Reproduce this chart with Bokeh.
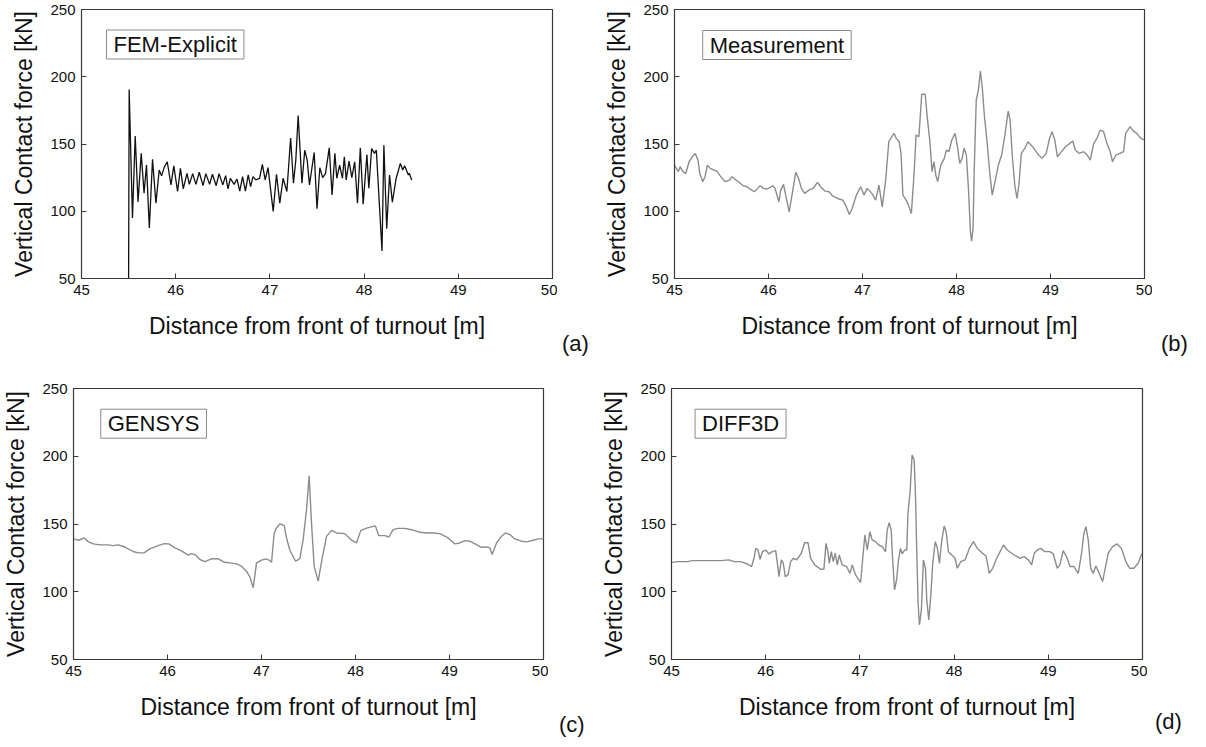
from bokeh.plotting import figure
from bokeh.models import Label, Range1d, FixedTicker, Div
from bokeh.layouts import column, row
from bokeh.embed import file_html
from bokeh.resources import INLINE

# ---------------- data ----------------
X_TICKS = [45, 46, 47, 48, 49, 50]
Y_TICKS = [50, 100, 150, 200, 250]
X_TITLE = "Distance from front of turnout [m]"
Y_TITLE = "Vertical Contact force [kN]"

fem_x = [45.5, 45.506, 45.541, 45.57, 45.60, 45.634, 45.664, 45.69, 45.72, 45.754, 45.79, 45.825, 45.85, 45.88,
         45.91, 45.95, 45.98, 46.02, 46.05, 46.08, 46.12, 46.145, 46.18, 46.215, 46.25, 46.29, 46.32, 46.36,
         46.39, 46.43, 46.46, 46.5, 46.53, 46.555, 46.58, 46.62, 46.65, 46.68, 46.71, 46.74, 46.77, 46.795,
         46.82, 46.85, 46.89, 46.92, 46.95, 46.98, 47.035, 47.07, 47.105, 47.14, 47.18, 47.22, 47.25, 47.275,
         47.30, 47.34, 47.37, 47.396, 47.42, 47.47, 47.50, 47.53, 47.56, 47.59, 47.63, 47.66, 47.69, 47.71,
         47.74, 47.77, 47.79, 47.81, 47.84, 47.87, 47.9, 47.93, 47.96, 47.99, 48.03, 48.05, 48.08, 48.11,
         48.13, 48.19, 48.21, 48.24, 48.27, 48.30, 48.34, 48.36, 48.385, 48.41, 48.43, 48.47, 48.48, 48.505]
fem_y = [50, 190.5, 95, 156, 107, 143, 113.5, 134.4, 87.6, 138.6, 106, 130.7, 126.3, 133,
         136.8, 119.6, 133.8, 114.7, 131.9, 116.6, 128.2, 120, 128, 120, 129, 119, 128, 120,
         127.5, 119, 128, 119.6, 126.5, 116.6, 124.5, 120, 124, 115, 125.7, 115, 127, 118.3,
         125.7, 123.3, 124.5, 134.8, 123.3, 132.4, 99.9, 127.5, 106, 124.5, 114.7, 154.5, 120.8, 138,
         171.2, 120.8, 145.4, 138, 119.6, 143.7, 101.9, 132.4, 125, 128, 147.1, 112.2, 143, 124.5,
         134.3, 124.5, 140.5, 123.3, 137.3, 125, 136.8, 106, 147.1, 105.3, 142.2, 117.1, 146.6, 143,
         145.4, 70.4, 149.1, 87.1, 127, 106.8, 124.5, 129.4, 135.6, 130.7, 133.8, 127, 128.2, 123.3]

meas_x = [44.985, 45.01, 45.04, 45.06, 45.09, 45.12, 45.155, 45.19, 45.22, 45.25, 45.27, 45.30, 45.325, 45.35,
          45.38, 45.42, 45.45, 45.50, 45.54, 45.585, 45.61, 45.655, 45.69, 45.73, 45.77, 45.805, 45.85, 45.885,
          45.91, 45.945, 45.98, 46.015, 46.045, 46.07, 46.11, 46.13, 46.16, 46.19, 46.22, 46.25, 46.29, 46.32,
          46.35, 46.385, 46.43, 46.475, 46.52, 46.555, 46.6, 46.645, 46.68, 46.735, 46.79, 46.82, 46.86, 46.89,
          46.935, 46.98, 47.016, 47.05, 47.1, 47.14, 47.175, 47.21, 47.245, 47.28, 47.335, 47.36, 47.39, 47.41,
          47.43, 47.475, 47.52, 47.55, 47.57, 47.6, 47.63, 47.667, 47.69, 47.717, 47.74, 47.76, 47.78, 47.8,
          47.833, 47.87, 47.893, 47.92, 47.95, 47.985, 48.01, 48.035, 48.06, 48.08, 48.105, 48.127, 48.148,
          48.16, 48.176, 48.19, 48.21, 48.233, 48.254, 48.275, 48.296, 48.33, 48.353, 48.38, 48.41, 48.445,
          48.48, 48.515, 48.55, 48.57, 48.593, 48.62, 48.643, 48.664, 48.69, 48.727, 48.76, 48.81, 48.86,
          48.91, 48.954, 48.99, 49.017, 49.045, 49.074, 49.116, 49.16, 49.193, 49.236, 49.264, 49.307,
          49.353, 49.39, 49.423, 49.46, 49.494, 49.53, 49.565, 49.6, 49.635, 49.66, 49.695, 49.74, 49.777,
          49.8, 49.847, 49.88, 49.918, 49.953, 49.995]
meas_y = [136.8, 133, 129.4, 133, 129.4, 128.1, 136.8, 140.5, 143, 138, 128, 122, 125.7, 134.3,
          131.9, 130.6, 129.9, 125, 122, 123.2, 125.7, 123.2, 121.4, 119, 118.2, 116.5, 114.5, 117,
          119, 117, 116.5, 117.5, 119, 117, 107, 115.7, 120, 109.5, 99.6, 112, 128.9, 124.4,
          117, 113.3, 115.7, 117, 121.4, 118.2, 115, 114.5, 111.5, 109.5, 108.3, 104.6, 97.6, 102,
          112, 118.2, 112, 117, 113.3, 108.3, 119.5, 103.3, 122, 151.7, 158, 154.2, 151.7, 143,
          112, 107, 98.4, 129.4, 156.7, 155.4, 187, 187, 169, 151.7, 129.4, 136.8, 126.9, 122,
          134.3, 139.3, 145.5, 144.3, 153, 157.9, 148, 135.6, 139.3, 146.8, 141.8, 117, 84.7,
          77.8, 87.2, 134.3, 182.7, 190.2, 204.3, 191.4, 171.6, 148, 129.4, 112, 122, 134.3,
          141.8, 156.7, 174.5, 167.8, 141.8, 119.5, 109.5, 119.5, 143, 146.8, 151.7, 148, 143,
          139.3, 143, 154.2, 159.2, 153, 140.5, 144.3, 148, 149.7, 152.2, 145.5, 143,
          144.3, 141.8, 138, 150.5, 154.2, 160.4, 159.2, 150.5, 144.3, 136.8, 141.8, 143, 144.3,
          157.9, 162.9, 159.7, 157.9, 154.7, 153]

gen_x = [45.0, 45.057, 45.114, 45.156, 45.21, 45.28, 45.37, 45.422, 45.475, 45.546, 45.635, 45.688, 45.75,
         45.812, 45.9, 45.965, 46.014, 46.078, 46.149, 46.22, 46.255, 46.298, 46.344, 46.397, 46.468, 46.54,
         46.603, 46.663, 46.734, 46.787, 46.84, 46.876, 46.912, 46.947, 47.0, 47.046, 47.082, 47.107, 47.135,
         47.16, 47.195, 47.241, 47.266, 47.302, 47.362, 47.408, 47.443, 47.479, 47.507, 47.532, 47.56, 47.603,
         47.646, 47.692, 47.745, 47.798, 47.887, 47.95, 48.01, 48.057, 48.117, 48.188, 48.213, 48.248, 48.312,
         48.355, 48.4, 48.454, 48.525, 48.596, 48.685, 48.756, 48.826, 48.897, 48.986, 49.057, 49.11, 49.163,
         49.217, 49.287, 49.34, 49.394, 49.429, 49.454, 49.5, 49.553, 49.596, 49.642, 49.695, 49.766, 49.82,
         49.89, 49.943, 50.0]
gen_y = [139, 138, 139.7, 137, 135.3, 134.6, 134.6, 134, 134.6, 133, 129.7, 128.7, 128.7,
         131.6, 134, 135.5, 135.3, 132.4, 130.1, 127, 128.2, 127.2, 123.8, 122.3, 124.3, 124.3,
         121.8, 121.3, 120.6, 118.9, 115.2, 111, 103, 121.3, 123.3, 124.3, 123.3, 121.8, 143.4,
         147, 150, 149, 139.7, 130.6, 122.5, 124.5, 138.5, 160.5, 185.5, 150.7, 118.9, 107.8,
         125, 140.9, 145.3, 143.4, 142.9, 138.5, 136, 145.3, 147, 148.3, 148.3, 141.4, 141.4,
         140.4, 145.8, 146.8, 146.8, 145.8, 143.9, 143.4, 143.4, 142.9, 139.7, 135.3, 136, 137.7,
         137.3, 134.8, 132.8, 133.1, 132.4, 127.5, 136, 140.9, 143.4, 142.2, 139, 137.3, 136.8,
         138, 139, 139]

diff_x = [44.995, 45.064, 45.17, 45.22, 45.346, 45.523, 45.61, 45.664, 45.735, 45.806, 45.85, 45.876, 45.894,
          45.919, 45.94, 45.965, 46.0, 46.035, 46.07, 46.106, 46.124, 46.141, 46.166, 46.187, 46.208, 46.237,
          46.265, 46.293, 46.329, 46.378, 46.414, 46.449, 46.477, 46.52, 46.583, 46.618, 46.64, 46.66, 46.675,
          46.696, 46.717, 46.738, 46.76, 46.78, 46.813, 46.859, 46.894, 46.919, 46.954, 47.007, 47.035, 47.053,
          47.078, 47.106, 47.13, 47.166, 47.2, 47.237, 47.272, 47.29, 47.311, 47.332, 47.346, 47.368, 47.389,
          47.41, 47.431, 47.449, 47.474, 47.498, 47.51, 47.533, 47.554, 47.576, 47.59, 47.604, 47.618, 47.632,
          47.653, 47.674, 47.696, 47.71, 47.731, 47.752, 47.773, 47.8, 47.823, 47.844, 47.87, 47.894, 47.915,
          47.94, 47.975, 48.01, 48.035, 48.07, 48.116, 48.162, 48.205, 48.247, 48.293, 48.339, 48.374, 48.41,
          48.452, 48.494, 48.523, 48.565, 48.61, 48.657, 48.7, 48.742, 48.788, 48.823, 48.851, 48.883, 48.918,
          48.964, 49.017, 49.053, 49.095, 49.123, 49.158, 49.194, 49.23, 49.272, 49.318, 49.353, 49.378, 49.4,
          49.424, 49.45, 49.477, 49.505, 49.54, 49.576, 49.604, 49.636, 49.682, 49.731, 49.777, 49.823, 49.865,
          49.908, 49.954, 49.995]
diff_y = [121.5, 122.2, 122.2, 123, 123, 123, 123.5, 122.2, 122.2, 120.5, 118.6, 124.7, 132,
          130.8, 124, 129.6, 130.8, 127.9, 129.6, 130.3, 121, 111.2, 123.5, 121, 111.2, 112.4,
          122.2, 124.7, 123.5, 128.4, 136.2, 136.2, 124.7, 119.8, 116.6, 116.6, 135.7, 129.6, 121,
          129.6, 122.2, 128.4, 119.8, 127.1, 119.8, 118.6, 113.6, 119.8, 112.4, 106.8, 128.4, 141.9,
          130.8, 144.3, 138.2, 137, 134.5, 133.3, 129.6, 145.6, 151, 145.6, 125.9, 101.4, 108.7,
          123.5, 132, 127.9, 130.8, 130.8, 157.9, 173.8, 200.9, 197.2, 171.4, 128.4, 91.5, 75.6,
          86.6, 123.5, 117.3, 94, 79.2, 96.4, 121, 137, 132, 121, 138.2, 148.5, 144.3,
          129.6, 127.1, 124.7, 117.3, 122.2, 123.5, 132, 137, 132, 128.9, 126.4, 113.6, 117.3,
          124.7, 130.3, 134.5, 130.8, 128.4, 126.4, 124.7, 125.9, 123.5, 119.8, 128.4, 130.8, 132,
          129.6, 129.6, 127.9, 117.3, 119.8, 130.3, 125.9, 118.6, 118.6, 113.6, 128.4, 143.1, 148,
          138.2, 117.3, 113.6, 119, 113.6, 107.5, 117.3, 128.4, 133.3, 135.3, 132, 122.2, 117.3,
          117.3, 121, 128.4]

# ---------------- styling ----------------
FONT = "Liberation Sans"
FRAME = "#3a3a3a"
GREY = "#8c8c8c"


def panel(w, h, bl, br, bt, bb, xs, ys, color, lw, name, name_x, name_y):
    p = figure(width=w, height=h, x_range=Range1d(45, 50), y_range=Range1d(50, 250),
               output_backend="svg", toolbar_location=None,
               min_border_left=bl, min_border_right=br, min_border_top=bt, min_border_bottom=bb)
    p.line(xs, ys, line_color=color, line_width=lw)
    p.xgrid.visible = False
    p.ygrid.visible = False
    p.outline_line_color = FRAME
    p.outline_line_width = 1.2
    p.background_fill_color = "white"
    p.border_fill_color = "white"
    for ax, ticks in ((p.xaxis[0], X_TICKS), (p.yaxis[0], Y_TICKS)):
        ax.ticker = FixedTicker(ticks=ticks)
        ax.major_tick_in = 5
        ax.major_tick_out = 0
        ax.minor_tick_line_color = None
        ax.axis_line_color = FRAME
        ax.major_tick_line_color = FRAME
        ax.major_label_text_font = FONT
        ax.major_label_text_font_size = "15px"
        ax.major_label_text_color = "#111111"
        ax.axis_label_text_font = FONT
        ax.axis_label_text_font_size = "23px"
        ax.axis_label_text_font_style = "normal"
        ax.axis_label_text_color = "#111111"
        ax.major_label_standoff = 6
    p.xaxis.axis_label = X_TITLE
    p.yaxis.axis_label = Y_TITLE
    p.xaxis.axis_label_standoff = 15
    p.yaxis.axis_label_standoff = 10

    p.add_layout(Label(x=name_x, y=name_y, text=name, text_font=FONT, text_font_size="22px",
                       text_color="#111111", text_align="left", text_baseline="middle",
                       border_line_color="#8a8a8a", border_line_width=1,
                       background_fill_color="white", padding=(7, 2)))
    return p


def tag(text, w, h, pad_left, pad_top):
    html = ('<div style="padding-left:%dpx; padding-top:%dpx; font-family:\'Liberation Sans\'; '
            'font-size:22px; line-height:26px; color:#111111;">%s</div>' % (pad_left, pad_top, text))
    return Div(text=html, width=w, height=h, margin=0)


pa = panel(557, 377, 81, 5, 7, 99, fem_x, fem_y, "#111111", 1.3, "FEM-Explicit", 45.265, 224)
pb = panel(556, 377, 78, 8, 9, 99, meas_x, meas_y, GREY, 1.4, "Measurement", 45.3, 223.6)
pc = panel(548, 354, 72, 5, 11, 72, gen_x, gen_y, GREY, 1.4, "GENSYS", 45.29, 224)
pd = panel(551, 354, 75, 5, 11, 72, diff_x, diff_y, GREY, 1.4, "DIFF3D", 45.25, 224)

ta = tag("(a)", 39, 377, 5, 331)
tb = tag("(b)", 38, 377, 9, 331)
tc = tag("(c)", 48, 354, 11, 335)
td = tag("(d)", 43, 354, 8, 332)

layout = column(row(pa, ta, pb, tb), row(pc, tc, pd, td))

open("out.html", "w").write(file_html(layout, INLINE))
